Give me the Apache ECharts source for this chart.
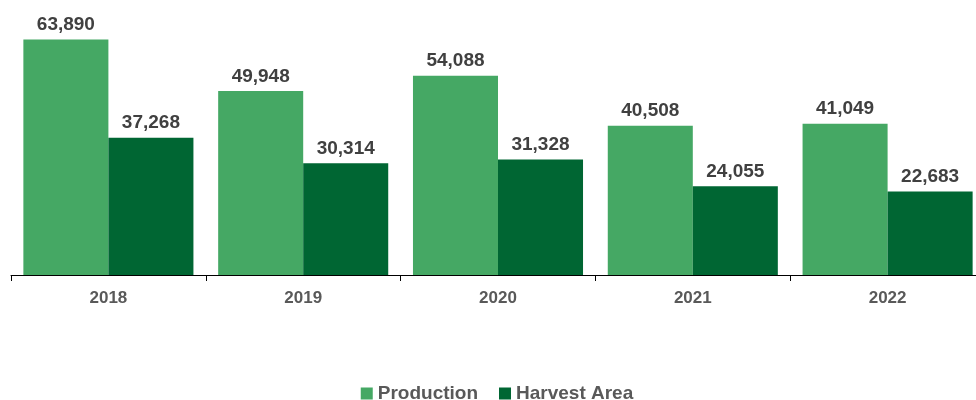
<!DOCTYPE html>
<html><head><meta charset="utf-8">
<script src="https://cdn.jsdelivr.net/npm/echarts@6/dist/echarts.min.js"></script>
<style>html,body{margin:0;padding:0;background:#fff;overflow:hidden}#c{width:994px;height:400px}</style>
</head><body><div id="c"></div>
<script>
const years = ['2018','2019','2020','2021','2022'];
const production = [63890, 49948, 54088, 40508, 41049];
const harvestArea = [37268, 30314, 31328, 24055, 22683];
const seriesNames = ['Production','Harvest Area'];

const chart = echarts.init(document.getElementById('c'));
const fmt = v => v.toLocaleString('en-US');
const lbl = {show:true, position:'top', distance:5, color:'#404040', fontFamily:'Liberation Sans, Arial', fontWeight:'bold', fontSize:19, formatter:p=>fmt(p.value)};
chart.setOption({
  animation:false,
  grid:{left:11, top:17, right:9, height:258, containLabel:false},
  legend:{top:379, itemWidth:12, itemHeight:12, itemGap:21, icon:'rect',
    textStyle:{color:'#595959', fontFamily:'Liberation Sans, Arial', fontWeight:'bold', fontSize:19},
    data:seriesNames},
  xAxis:{type:'category', data:years,
    axisLine:{lineStyle:{color:'#000', width:1}},
    axisTick:{show:true, length:6, lineStyle:{color:'#000'}},
    axisLabel:{color:'#595959', fontFamily:'Liberation Sans, Arial', fontWeight:'bold', fontSize:17, margin:15}},
  yAxis:{type:'value', min:0, max:70000, show:false, splitLine:{show:false}},
  series:[
    {name:seriesNames[0], type:'bar', data:production, barGap:'0%', barCategoryGap:'12.7%', itemStyle:{color:'#45A864'}, label:lbl},
    {name:seriesNames[1], type:'bar', data:harvestArea, itemStyle:{color:'#006633'}, label:lbl}
  ]
});
</script></body></html>
